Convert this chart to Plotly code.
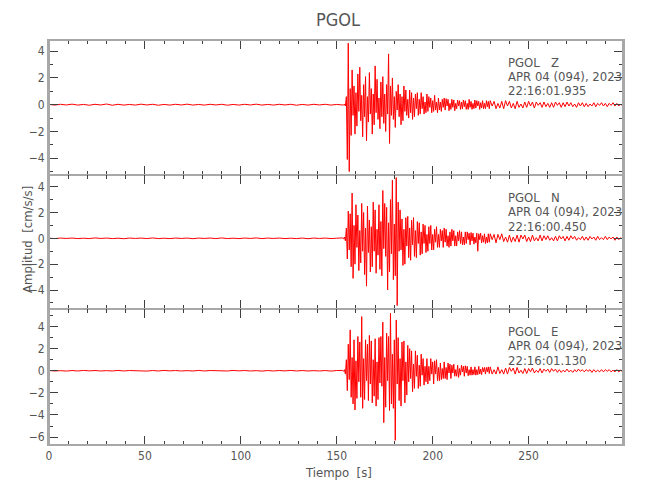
import numpy as np
import plotly.graph_objects as go
from plotly.subplots import make_subplots

STATION = "PGOL"
COMPONENTS = ["Z", "N", "E"]
DATE_TEXT = "APR 04 (094), 2023"
START_TIMES = ["22:16:01.935", "22:16:00.450", "22:16:01.130"]

# sampling of the three record segments (seconds)
QUIET_T0, QUIET_DT = 0.0, 3.0
STRONG_T0, STRONG_DT = 153.0, 0.5
CODA_T0, CODA_DT = 230.0, 1.0

quiet_z = [0.02,-0.03,0.03,-0.02,0.04,-0.03,0.02,-0.04,0.03,-0.02,
           0.05,-0.04,0.03,-0.03,0.02,-0.03,0.04,-0.02,0.03,-0.04,
           0.02,-0.03,0.03,-0.02,0.04,-0.03,0.02,-0.03,0.03,-0.02,
           0.03,-0.04,0.02,-0.03,0.03,-0.02,0.04,-0.03,0.02,-0.03,
           0.03,-0.02,0.03,-0.04,0.02,-0.03,0.03,-0.02,0.03,-0.03,0.02]
strong_z = [0.02,-0.03,0.05,-0.1,0.6,-4.1,4.6,-5.0,1.2,-2.3,
            2.6,-0.8,1.4,-2.2,0.9,-1.6,2.3,-0.5,2.8,-1.2,
            0.7,-2.4,1.5,-0.9,2.1,-2.7,0.6,-1.3,2.4,-0.7,
            1.2,-2.2,0.8,-1.5,2.9,-0.6,1.9,-1.1,0.5,-1.8,
            1.7,-0.9,2.1,-1.4,0.8,-2.0,1.5,-0.7,3.8,-2.9,
            1.4,-0.8,2.0,-1.1,0.6,-1.7,1.0,-0.4,1.5,-0.9,
            0.8,-1.5,0.6,-1.2,1.4,-0.5,1.1,-0.8,0.4,-1.0,
            1.1,-0.6,0.9,-1.1,0.5,-0.9,0.8,-0.3,0.9,-0.8,
            0.4,-0.7,0.9,-0.3,0.6,-0.7,0.2,-0.6,0.8,-0.5,
            0.6,-0.2,0.5,-0.6,0.3,-0.5,0.7,-0.4,0.2,-0.6,
            0.5,-0.4,0.2,-0.5,0.4,-0.2,0.5,-0.4,0.45,-0.1,
            0.4,-0.45,0.1,-0.35,0.4,-0.2,0.35,-0.45,0.1,-0.3,
            0.35,-0.1,0.3,-0.35,0.2,-0.3,0.35,-0.15,0.3,-0.35,
            0.1,-0.35,0.4,-0.2,0.25,-0.35,0.1,-0.3,0.35,-0.25,
            0.3,-0.1,0.25,-0.35,0.15,-0.25,0.3,-0.3,0.1,-0.3,
            0.3,-0.15,0.25,-0.3]
coda_z = [0.3,-0.1,0.25,-0.3,0.1,-0.25,0.25,-0.3,0.3,-0.1,
          0.25,-0.25,0.1,-0.3,0.25,-0.2,0.05,-0.25,0.2,-0.2,
          0.25,-0.1,0.2,-0.25,0.2,-0.05,0.15,-0.2,0.2,-0.15,
          0.1,-0.2,0.15,-0.2,0.2,-0.05,0.15,-0.2,0.15,-0.15,
          0.2,-0.1,0.15,-0.15,0.05,-0.2,0.15,-0.1,0.15,-0.15,
          0.1,-0.15,0.05,-0.1,0.15,-0.15,0.1,-0.05,0.15,-0.1,
          0.1,-0.15,0.1,-0.05,0.15,-0.1,0.1,-0.1,0.05,-0.1]

quiet_n = [0.01,-0.02,0.02,-0.01,0.02,-0.02,0.01,-0.02,0.03,-0.01,
           0.02,-0.02,0.01,-0.03,0.02,-0.01,0.02,-0.02,0.03,-0.02,
           0.01,-0.02,0.02,-0.01,0.02,-0.03,0.02,-0.01,0.02,-0.02,
           0.03,-0.02,0.01,-0.02,0.02,-0.01,0.03,-0.02,0.02,-0.01,
           0.02,-0.02,0.01,-0.02,0.02,-0.03,0.02,-0.01,0.02,-0.02,0.01]
strong_n = [0.03,-0.04,0.1,-0.2,0.8,-1.6,2.1,-0.9,1.9,-2.2,
            3.5,-3.1,1.0,-2.0,2.6,-0.7,1.8,-2.5,0.6,-1.9,
            2.7,-1.0,2.0,-2.8,0.8,-3.7,2.5,-1.1,1.4,-2.6,
            0.9,-2.2,2.8,-1.0,2.2,-2.7,0.7,-1.3,2.6,-2.4,
            1.3,-2.9,3.7,-0.8,2.7,-1.4,2.4,-4.0,1.2,-2.6,
            3.0,-1.2,4.5,-3.2,1.1,-2.9,4.7,-5.2,2.8,-1.0,
            2.2,-0.9,1.5,-2.1,0.7,-2.0,1.6,-0.6,1.7,-1.5,
            0.8,-1.7,1.4,-0.5,1.6,-1.4,0.6,-1.5,1.3,-0.4,
            1.2,-1.3,0.5,-1.2,1.1,-0.4,1.0,-1.1,0.3,-1.0,
            0.9,-0.4,1.0,-0.9,0.3,-0.9,0.7,-0.3,0.9,-0.7,
            0.3,-0.7,0.7,-0.2,0.6,-0.7,0.8,-0.3,0.7,-0.6,
            0.2,-0.7,0.5,-0.6,0.7,-0.2,0.6,-0.6,0.2,-0.6,
            0.5,-0.2,0.6,-0.4,0.5,-0.5,0.1,-0.5,0.5,-0.4,
            0.5,-0.1,0.4,-0.5,0.45,-0.2,0.4,-0.45,0.1,-0.35,
            0.4,-1.0,0.35,-0.1,0.4,-0.35,0.2,-0.3,0.35,-0.4,
            0.1,-0.35,0.35,-0.3]
coda_n = [0.35,-0.1,0.3,-0.35,0.3,-0.1,0.35,-0.25,0.1,-0.3,
          0.25,-0.3,0.1,-0.25,0.25,-0.3,0.25,-0.05,0.25,-0.25,
          0.1,-0.25,0.25,-0.2,0.05,-0.2,0.25,-0.2,0.2,-0.1,
          0.2,-0.15,0.05,-0.2,0.15,-0.2,0.2,-0.05,0.15,-0.2,
          0.15,-0.15,0.2,-0.05,0.15,-0.15,0.05,-0.1,0.15,-0.15,
          0.1,-0.15,0.15,-0.05,0.1,-0.15,0.15,-0.1,0.05,-0.1,
          0.15,-0.1,0.1,-0.05,0.1,-0.15,0.1,-0.1,0.05,-0.1]

quiet_e = [0.02,-0.02,0.01,-0.03,0.02,-0.02,0.03,-0.01,0.02,-0.02,
           0.01,-0.02,0.03,-0.02,0.02,-0.01,0.02,-0.03,0.02,-0.02,
           0.03,-0.01,0.02,-0.02,0.01,-0.02,0.03,-0.02,0.02,-0.01,
           0.02,-0.02,0.03,-0.01,0.02,-0.02,0.01,-0.03,0.02,-0.02,
           0.02,-0.01,0.03,-0.02,0.02,-0.02,0.01,-0.02,0.02,-0.03,0.02]
strong_e = [0.03,-0.05,0.1,-0.3,1.0,-1.8,2.4,-0.8,3.7,-2.4,
            1.2,-3.0,2.8,-3.55,0.9,-2.5,3.1,-1.0,2.6,-2.4,
            4.9,-3.4,1.1,-2.6,2.8,-0.9,2.4,-2.7,3.2,-1.2,
            2.7,-2.9,1.0,-2.3,2.9,-3.2,0.8,-2.6,3.0,-1.1,
            3.1,-1.4,4.4,-4.7,1.2,-3.3,3.4,-0.9,3.1,-3.6,
            5.2,-3.0,1.5,-3.4,2.8,-6.3,4.6,-1.2,3.0,-2.7,
            1.1,-3.2,2.6,-0.9,2.7,-2.9,0.8,-2.2,2.3,-1.0,
            2.0,-0.7,1.8,-1.9,0.6,-1.6,1.8,-0.5,1.4,-1.6,
            0.5,-1.4,1.5,-0.4,1.1,-1.3,0.4,-1.0,1.1,-1.2,
            0.4,-0.9,1.1,-0.3,0.8,-1.2,0.9,-0.3,1.0,-0.9,
            0.3,-0.9,0.7,-0.8,0.2,-0.7,0.8,-0.7,0.3,-0.8,
            0.7,-0.2,0.6,-0.7,0.5,-0.2,0.6,-0.5,0.1,-0.5,
            0.5,-0.6,0.2,-0.4,0.5,-0.1,0.4,-0.5,0.45,-0.2,
            0.4,-0.45,0.1,-0.4,0.35,-0.4,0.1,-0.35,0.35,-0.4,
            0.1,-0.35,0.4,-0.3,0.15,-0.35,0.3,-0.1,0.3,-0.3,
            0.3,-0.1,0.35,-0.25]
coda_e = [0.35,-0.3,0.1,-0.3,0.35,-0.25,0.1,-0.3,0.25,-0.3,
          0.3,-0.05,0.25,-0.3,0.3,-0.2,0.05,-0.25,0.2,-0.25,
          0.2,-0.1,0.25,-0.2,0.05,-0.15,0.2,-0.2,0.15,-0.05,
          0.15,-0.15,0.2,-0.05,0.15,-0.15,0.1,-0.15,0.05,-0.1,
          0.15,-0.1,0.05,-0.15,0.1,-0.1,0.15,-0.05,0.1,-0.1,
          0.1,-0.05,0.1,-0.15,0.1,-0.1,0.05,-0.1,0.1,-0.1,
          0.1,-0.05,0.1,-0.1,0.05,-0.1,0.1,-0.1,0.05,-0.1]

records = [(quiet_z, strong_z, coda_z), (quiet_n, strong_n, coda_n), (quiet_e, strong_e, coda_e)]

def build(q, s, c):
    tq = QUIET_T0 + QUIET_DT * np.arange(len(q))
    ts = STRONG_T0 + STRONG_DT * np.arange(len(s))
    tc = CODA_T0 + CODA_DT * np.arange(len(c))
    return np.concatenate([tq, ts, tc]), np.concatenate([q, s, c])

# layout in pixels
W, H = 650, 500
L, R, T, B = 49, 27, 40, 55
panel_px = [(40, 175), (175, 309), (309, 445)]
plot_h = H - T - B
plot_w = W - L - R

fig = make_subplots(rows=3, cols=1, shared_xaxes=True, vertical_spacing=0,
                    row_heights=[135, 134, 136])

yranges = [[-5.26, 4.84], [-5.47, 4.9], [-6.72, 5.59]]

FONT = "DejaVu Sans Condensed, Liberation Sans Narrow, Arial Narrow, sans-serif"
TXT = "#555555"
AXC = "#a8a8a8"
TKC = "#404040"

for i, (q, s, c) in enumerate(records):
    t, a = build(q, s, c)
    fig.add_trace(go.Scatter(x=t, y=a, mode="lines",
                             line=dict(color="#ff0000", width=1.0),
                             showlegend=False, hoverinfo="skip"),
                  row=i + 1, col=1)
    top, bot = panel_px[i]
    d0 = (H - B - bot) / plot_h
    d1 = (H - B - top) / plot_h
    yname = "yaxis" if i == 0 else f"yaxis{i+1}"
    xname = "xaxis" if i == 0 else f"xaxis{i+1}"
    fig.layout[yname].update(domain=[d0, d1], range=yranges[i], dtick=2, tick0=0,
                             ticks="inside", ticklen=9, tickcolor=TKC, tickwidth=1,
                             showline=True, linecolor=AXC, linewidth=2, mirror="ticks",
                             showgrid=False, zeroline=False, automargin=False,
                             minor=dict(dtick=1, tick0=0, ticks="inside", ticklen=4,
                                        tickcolor=TKC, tickwidth=1, showgrid=False),
                             tickfont=dict(family=FONT, size=12, color=TXT))
    fig.layout[xname].update(range=[0, 299.2], dtick=50, tick0=0,
                             ticks="inside", ticklen=9, tickcolor=TKC, tickwidth=1,
                             showline=True, linecolor=AXC, linewidth=1, mirror="ticks",
                             showgrid=False, zeroline=False, automargin=False,
                             minor=dict(dtick=10, tick0=0, ticks="inside", ticklen=4,
                                        tickcolor=TKC, tickwidth=1, showgrid=False),
                             tickfont=dict(family=FONT, size=12, color=TXT),
                             showticklabels=(i == 2))

    # station annotation
    lines = [f"{STATION}\u00a0\u00a0\u00a0{COMPONENTS[i]}", DATE_TEXT, START_TIMES[i]]
    for k, txt in enumerate(lines):
        ypx = top + 22 + 14.5 * k
        fig.add_annotation(text=txt, xref="paper", yref="paper",
                           x=(506 - L) / plot_w, y=(H - B - ypx) / plot_h,
                           xanchor="left", yanchor="middle", showarrow=False,
                           font=dict(family=FONT, size=13, color=TXT))

# outer frame of the stacked panels
fig.add_shape(type="rect", xref="paper", yref="paper", x0=0, x1=1, y0=0, y1=1,
              line=dict(color=AXC, width=2), fillcolor="rgba(0,0,0,0)", layer="above")

fig.add_annotation(text="Amplitud\u00a0\u00a0[cm/s/s]", xref="paper", yref="paper",
                   x=(27 - L) / plot_w, y=(H - B - 240) / plot_h,
                   textangle=-90, showarrow=False, xanchor="center", yanchor="middle",
                   font=dict(family=FONT, size=13, color=TXT))
fig.add_annotation(text="Tiempo\u00a0\u00a0[s]", xref="paper", yref="paper",
                   x=(338 - L) / plot_w, y=(H - B - 472) / plot_h,
                   showarrow=False, xanchor="center", yanchor="middle",
                   font=dict(family=FONT, size=13, color=TXT))

fig.update_layout(width=W, height=H, margin=dict(l=L, r=R, t=T, b=B),
                  plot_bgcolor="white", paper_bgcolor="white",
                  title=dict(text=STATION, x=(338) / W, xanchor="center",
                             y=1 - 20 / H, yanchor="middle",
                             font=dict(family=FONT, size=18, color=TXT)))

fig.write_html("out.html", config={"displayModeBar": False},
               post_script="document.body.style.margin='0px';document.body.style.padding='0px';")
